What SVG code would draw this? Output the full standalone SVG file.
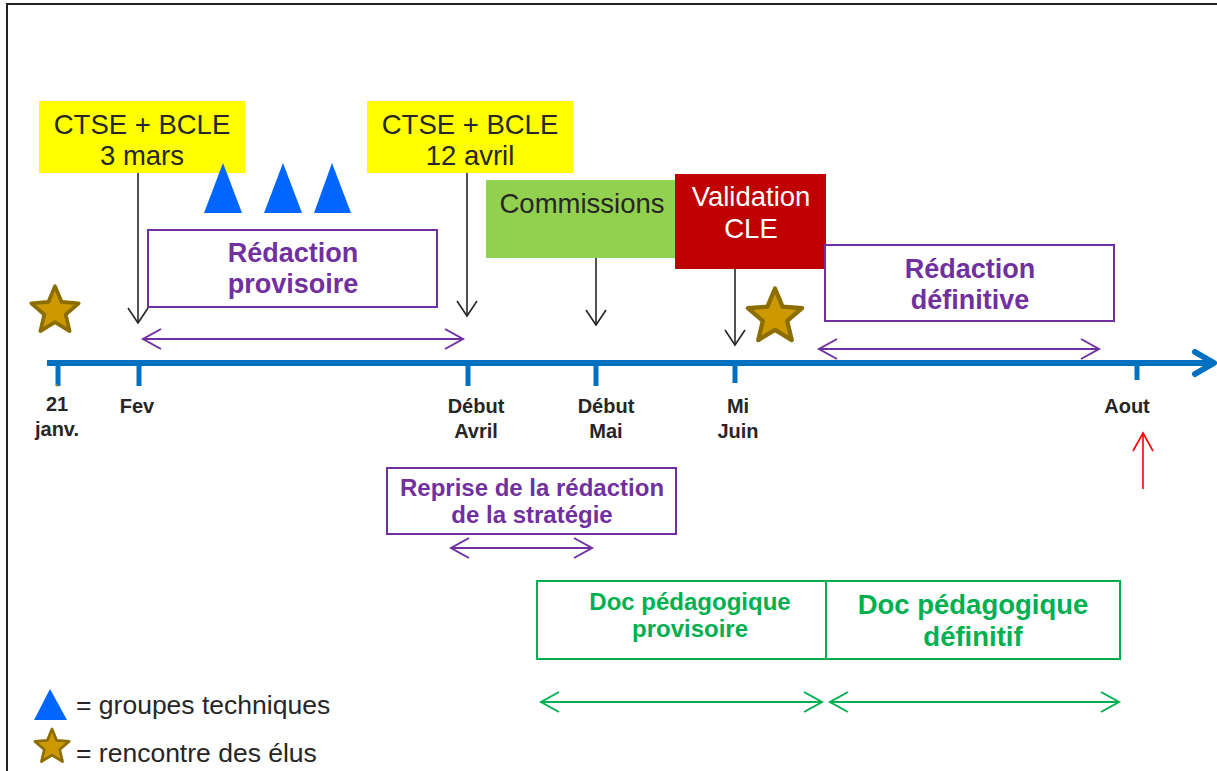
<svg xmlns="http://www.w3.org/2000/svg" width="1217" height="771" viewBox="0 0 1217 771">
<style>
.lbl{font-family:"Liberation Sans",Arial,sans-serif;font-weight:bold;font-size:20px;fill:#262626;text-anchor:middle}
.dark{font-family:"Liberation Sans",Arial,sans-serif;font-size:27.5px;fill:#262626;text-anchor:middle}
.white{font-family:"Liberation Sans",Arial,sans-serif;font-size:27.5px;fill:#ffffff;text-anchor:middle}
.pur{font-family:"Liberation Sans",Arial,sans-serif;font-weight:bold;fill:#7030A0;text-anchor:middle}
.grn{font-family:"Liberation Sans",Arial,sans-serif;font-weight:bold;fill:#00B050;text-anchor:middle}
.leg{font-family:"Liberation Sans",Arial,sans-serif;font-size:26.5px;fill:#262626}
.pbox{fill:#ffffff;stroke:#7030A0;stroke-width:2}
.gbox{fill:#ffffff;stroke:#00B050;stroke-width:2}
.tri{fill:#0066FF}
.star{fill:#CC9900;stroke:#8C6D00;stroke-width:4.5;stroke-linejoin:round}
.tick{stroke:#0070C0;stroke-width:5}
.blk{stroke:#262626;stroke-width:1.6;fill:none}
.pl{stroke:#7030A0;stroke-width:2;fill:none}
.gl{stroke:#00B050;stroke-width:2;fill:none}
.rl{stroke:#FF0000;stroke-width:1.6;fill:none}
</style>
<defs>
<marker id="mb" markerUnits="userSpaceOnUse" markerWidth="24" markerHeight="24" refX="16" refY="11" orient="auto-start-reverse" overflow="visible"><path d="M1,1 L16,11 L1,21" fill="none" stroke="#262626" stroke-width="1.6"/></marker>
<marker id="mp" markerUnits="userSpaceOnUse" markerWidth="24" markerHeight="24" refX="19" refY="11" orient="auto-start-reverse" overflow="visible"><path d="M1,1 L19,11 L1,21" fill="none" stroke="#7030A0" stroke-width="2"/></marker>
<marker id="mg" markerUnits="userSpaceOnUse" markerWidth="24" markerHeight="24" refX="19" refY="11" orient="auto-start-reverse" overflow="visible"><path d="M1,1 L19,11 L1,21" fill="none" stroke="#00B050" stroke-width="2"/></marker>
<marker id="mr" markerUnits="userSpaceOnUse" markerWidth="24" markerHeight="24" refX="19" refY="11" orient="auto-start-reverse" overflow="visible"><path d="M1,1 L19,11 L1,21" fill="none" stroke="#FF0000" stroke-width="1.6"/></marker>
<path id="starShape" d="M0,-30 L7.95,-10.92 L28.53,-9.27 L12.84,4.17 L17.64,24.27 L0,13.5 L-17.64,24.27 L-12.84,4.17 L-28.53,-9.27 L-7.95,-10.92 Z"/>
</defs>
<rect x="0" y="0" width="1217" height="771" fill="#ffffff"/>
<rect id="frame" x="7" y="4" width="1230" height="800" fill="none" stroke="#222222" stroke-width="2"/>

<g id="timeline">
<line x1="47" y1="363" x2="1211" y2="363" stroke="#0070C0" stroke-width="6"/>
<path d="M1195,352 L1214,363 L1195,374" fill="none" stroke="#0070C0" stroke-width="6" stroke-linecap="round" stroke-linejoin="round"/>
<line class="tick" x1="58" y1="363" x2="58" y2="386"/>
<line x1="57" y1="384" x2="57" y2="387" stroke="#CC9900" stroke-width="1"/>
<line class="tick" x1="139" y1="363" x2="139" y2="386"/>
<line class="tick" x1="468" y1="363" x2="468" y2="386"/>
<line class="tick" x1="596" y1="363" x2="596" y2="386"/>
<line class="tick" x1="735" y1="363" x2="735" y2="383"/>
<line class="tick" x1="1137" y1="363" x2="1137" y2="380"/>
<text class="lbl" x="57" y="411">21</text>
<text class="lbl" x="57" y="436">janv.</text>
<text class="lbl" x="137" y="413">Fev</text>
<text class="lbl" x="476" y="413">Début</text>
<text class="lbl" x="476" y="438">Avril</text>
<text class="lbl" x="606" y="413">Début</text>
<text class="lbl" x="606" y="438">Mai</text>
<text class="lbl" x="738" y="413">Mi</text>
<text class="lbl" x="738" y="438">Juin</text>
<text class="lbl" x="1127" y="413">Aout</text>
</g>

<g id="ctse1">
<rect x="39" y="101" width="206" height="72" fill="#FFFF00"/>
<text class="dark" x="142" y="134">CTSE + BCLE</text>
<text class="dark" x="142" y="165">3 mars</text>
</g>
<g id="ctse2">
<rect x="367" y="101" width="206" height="72" fill="#FFFF00"/>
<text class="dark" x="470" y="134">CTSE + BCLE</text>
<text class="dark" x="470" y="165">12 avril</text>
</g>
<g id="groupes">
<polygon class="tri" points="204,213 223,163 242,213"/>
<polygon class="tri" points="264,213 283,163 302,213"/>
<polygon class="tri" points="314,213 332,163 351,213"/>
</g>
<g id="redaction-provisoire">
<rect class="pbox" x="148" y="230" width="289" height="77"/>
<text class="pur" x="293" y="262" font-size="27">Rédaction</text>
<text class="pur" x="293" y="293" font-size="27">provisoire</text>
</g>
<g id="commissions">
<rect x="486" y="180" width="194" height="78" fill="#92D050"/>
<text class="dark" x="582" y="213">Commissions</text>
</g>
<g id="validation">
<rect x="675" y="174" width="151" height="95" fill="#C00000"/>
<text class="white" x="751" y="206">Validation</text>
<text class="white" x="751" y="238">CLE</text>
</g>
<g id="redaction-definitive">
<rect class="pbox" x="825" y="245" width="289" height="76"/>
<text class="pur" x="970" y="278" font-size="27">Rédaction</text>
<text class="pur" x="970" y="309" font-size="27">définitive</text>
</g>
<g id="reprise">
<rect class="pbox" x="387" y="468" width="289" height="66"/>
<text class="pur" x="532" y="496" font-size="24">Reprise de la rédaction</text>
<text class="pur" x="532" y="523" font-size="24">de la stratégie</text>
</g>
<g id="doc-provisoire">
<rect class="gbox" x="537" y="581" width="289" height="78"/>
<text class="grn" x="690" y="610" font-size="24">Doc pédagogique</text>
<text class="grn" x="690" y="637" font-size="24">provisoire</text>
</g>
<g id="doc-definitif">
<rect class="gbox" x="826" y="581" width="294" height="78"/>
<text class="grn" x="973" y="614" font-size="27.5">Doc pédagogique</text>
<text class="grn" x="973" y="646" font-size="27.5">définitif</text>
</g>
<g id="stars">
<use href="#starShape" class="star" transform="translate(55,311) scale(0.83)"/>
<use href="#starShape" class="star" transform="translate(775,317) scale(0.95)"/>
</g>
<g id="legend">
<polygon class="tri" points="34,720 50,689 67,720"/>
<text class="leg" x="76" y="714">= groupes techniques</text>
<use href="#starShape" class="star" transform="translate(52,747) scale(0.6)"/>
<text class="leg" x="76" y="762">= rencontre des élus</text>
</g>
<g id="connectors">
<line class="blk" x1="138" y1="173" x2="138" y2="323" marker-end="url(#mb)"/>
<line class="blk" x1="467" y1="173" x2="467" y2="316" marker-end="url(#mb)"/>
<line class="blk" x1="596" y1="258" x2="596" y2="325" marker-end="url(#mb)"/>
<line class="blk" x1="735" y1="269" x2="735" y2="345" marker-end="url(#mb)"/>
<line class="pl" x1="143" y1="339" x2="463" y2="339" marker-start="url(#mp)" marker-end="url(#mp)"/>
<line class="pl" x1="819" y1="349" x2="1099" y2="349" marker-start="url(#mp)" marker-end="url(#mp)"/>
<line class="pl" x1="451" y1="548" x2="592" y2="548" marker-start="url(#mp)" marker-end="url(#mp)"/>
<line class="gl" x1="541" y1="702" x2="822" y2="702" marker-start="url(#mg)" marker-end="url(#mg)"/>
<line class="gl" x1="830" y1="702" x2="1119" y2="702" marker-start="url(#mg)" marker-end="url(#mg)"/>
<line class="rl" x1="1143" y1="489" x2="1143" y2="433" marker-end="url(#mr)"/>
</g>
</svg>
